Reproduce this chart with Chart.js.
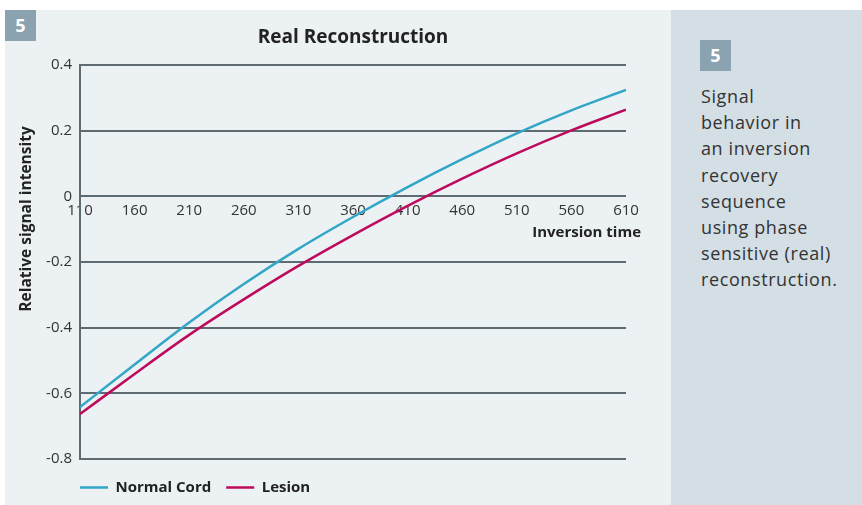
<!DOCTYPE html>
<html>
<head>
<meta charset="utf-8">
<script src="https://cdn.jsdelivr.net/npm/chart.js@4"></script>
<style>
    html, body { margin: 0; padding: 0; background: #ffffff; }
    body { width: 862px; height: 505px; position: relative; overflow: hidden; font-family: "Open Sans", sans-serif; }
    .chart-panel { position: absolute; left: 5px; top: 10px; width: 666px; height: 495px; background: #ecf1f4; }
    .chart-panel canvas { position: absolute; left: 0; top: 0; }
    .badge { position: absolute; width: 31px; height: 31px; background: #8ba2b1; color: #fff;
             font-weight: bold; font-size: 18px; line-height: 31px; text-align: center; }
    .side-panel { position: absolute; left: 671px; top: 10px; width: 191px; height: 495px; background: #d3dee5; }
    .side-panel p { position: absolute; left: 30px; top: 73px; margin: 0; width: 160px;
                    font-size: 18px; line-height: 26.2px; letter-spacing: 0.6px; color: #333; }
</style>
</head>
<body>
<div class="chart-panel">
    <canvas id="irChart" width="666" height="495"></canvas>
    <div class="badge" style="left:0;top:0;">5</div>
</div>
<div class="side-panel">
    <div class="badge" style="left:29px;top:30px;">5</div>
    <p>Signal<br>behavior in<br>an inversion<br>recovery<br>sequence<br>using phase<br>sensitive (real)<br>reconstruction.</p>
</div>
<script>
// Values
const inversionTimes = [110, 160, 210, 260, 310, 360, 410, 460, 510, 560, 610];
const normalCord = [-0.642, -0.512, -0.384, -0.267, -0.160, -0.063, 0.028, 0.113, 0.192, 0.262, 0.324];
const lesion = [-0.663, -0.541, -0.422, -0.314, -0.212, -0.118, -0.029, 0.054, 0.131, 0.201, 0.264];
const yTicks = [-0.8, -0.6, -0.4, -0.2, 0, 0.2, 0.4];

const FONT = '"Open Sans", sans-serif';
const GRID = '#5f6b73';
const TEXT = '#333333';

function toPoints(values) {
    return inversionTimes.map((t, i) => ({ x: t, y: values[i] }));
}

// Title, axis titles drawn by hand to sit where the reference puts them
const labelPlugin = {
    id: 'labels',
    afterLayout(chart) {
        // start legend flush with the plot's left edge, a little lower
        const legend = chart.legend;
        const pad = legend.options.labels.padding;
        legend.left -= pad;
        legend.right -= pad;
        legend.top += 6;
        legend.bottom += 6;
    },
    afterDraw(chart) {
        const ctx = chart.ctx;
        const area = chart.chartArea;
        ctx.save();
        ctx.fillStyle = '#222';
        ctx.textBaseline = 'middle';

        ctx.font = 'bold 19px ' + FONT;
        ctx.textAlign = 'center';
        ctx.fillText('Real Reconstruction', (area.left + area.right) / 2, 28);

        ctx.font = 'bold 15px ' + FONT;
        ctx.textAlign = 'right';
        ctx.fillText('Inversion time', area.right + 15, 223);

        ctx.font = 'bold 15.5px ' + FONT;
        ctx.translate(22, 209);
        ctx.rotate(-Math.PI / 2);
        ctx.textAlign = 'center';
        ctx.fillText('Relative signal intensity', 0, 0);
        ctx.restore();
    }
};

const ctx = document.getElementById('irChart').getContext('2d');
new Chart(ctx, {
    type: 'line',
    data: {
        datasets: [{
            label: 'Normal Cord',
            data: toPoints(normalCord),
            borderColor: '#31a6c6',
            backgroundColor: '#31a6c6',
            borderWidth: 2.5,
            pointRadius: 0,
            cubicInterpolationMode: 'monotone'
        }, {
            label: 'Lesion',
            data: toPoints(lesion),
            borderColor: '#be0a5a',
            backgroundColor: '#be0a5a',
            borderWidth: 2.5,
            pointRadius: 0,
            cubicInterpolationMode: 'monotone'
        }]
    },
    options: {
        responsive: false,
        animation: false,
        layout: {
            padding: { left: 0, top: 55, right: 45, bottom: 6 }
        },
        scales: {
            x: {
                type: 'linear',
                position: { y: 0 },
                min: 110,
                max: 610,
                grid: { display: false, drawTicks: false },
                border: { display: false },
                ticks: {
                    stepSize: 50,
                    padding: 5,
                    color: TEXT,
                    font: { family: FONT, size: 15 }
                }
            },
            y: {
                min: -0.8,
                max: 0.4,
                afterFit(scale) { scale.width = 75; },
                afterBuildTicks(scale) { scale.ticks = yTicks.map(v => ({ value: v })); },
                grid: { color: GRID, lineWidth: 2, drawTicks: false },
                border: { display: true, color: GRID, width: 2 },
                ticks: {
                    padding: 8,
                    color: TEXT,
                    font: { family: FONT, size: 15 },
                    callback: v => String(Math.round(v * 10) / 10)
                }
            }
        },
        plugins: {
            title: { display: false },
            legend: {
                position: 'bottom',
                align: 'start',
                fullSize: false,
                labels: {
                    usePointStyle: true,
                    pointStyle: 'line',
                    pointStyleWidth: 28,
                    padding: 15,
                    color: '#222',
                    font: { family: FONT, size: 15, weight: 'bold' }
                }
            },
            tooltip: { enabled: false }
        }
    },
    plugins: [labelPlugin]
});
</script>
</body>
</html>
